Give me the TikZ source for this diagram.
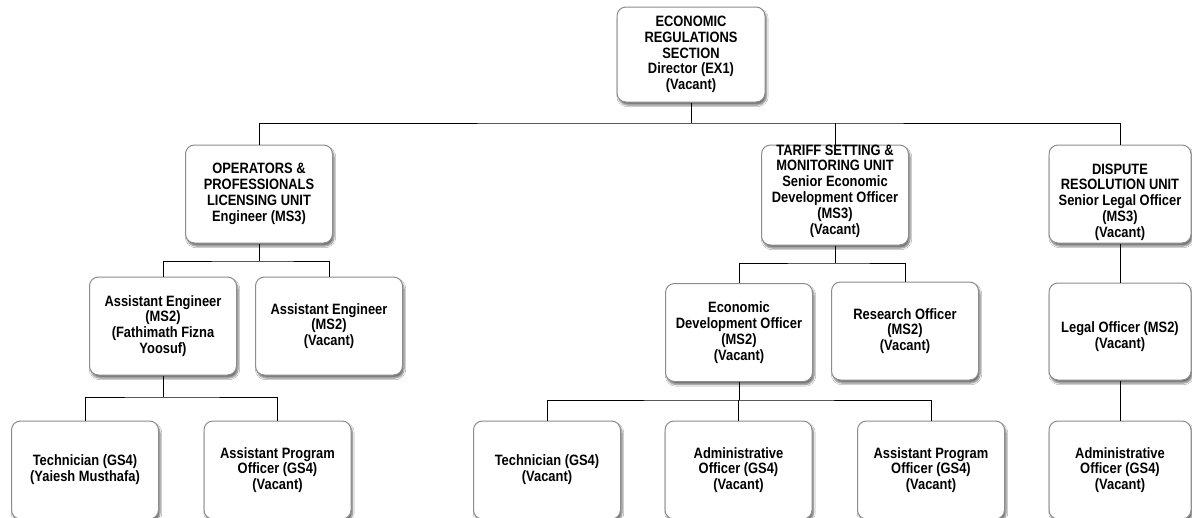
\documentclass[tikz,border=0pt]{standalone}
\usepackage{fontspec}
\newfontfamily\boxfont{Liberation Sans}[FakeStretch=0.86]
\usetikzlibrary{shadows.blur}
\definecolor{boxgray}{RGB}{140,140,140}
\begin{document}
\begin{tikzpicture}[x=1pt,y=-1pt,
  box/.style={draw=boxgray, line width=1pt, rounded corners=9pt, fill=white,
    minimum width=147pt, minimum height=98pt, inner sep=0pt,
    blur shadow={shadow xshift=1.5pt, shadow yshift=-3pt, shadow blur steps=6, shadow opacity=55}},
  txt/.style={align=center, font=\boxfont\bfseries\fontsize{15}{15.8}\selectfont, inner sep=0pt},
  link/.style={draw=black, line width=0.9pt}]
\useasboundingbox (0,0) rectangle (1192,517);
\fill[white] (0,0) rectangle (1192,517);
\clip (0,0) rectangle (1192,517);

% level 1
\node[box, minimum width=148pt, minimum height=95pt] (top) at (691,54.5) {};
% level 2
\node[box] (ops) at (259,194) {};
\node[box, minimum height=100pt] (tar) at (835,195) {};
\node[box, minimum width=142pt] (dis) at (1120,194) {};
% level 3
\node[box] (ae1) at (163,326) {};
\node[box] (ae2) at (329,326) {};
\node[box] (edo) at (739,332.5) {};
\node[box] (ro) at (905,331) {};
\node[box, minimum width=142pt, minimum height=97pt] (lo) at (1120,331.5) {};
% level 4
\node[box] (t1) at (85,470) {};
\node[box] (ap1) at (277.5,470) {};
\node[box] (t2) at (547,470) {};
\node[box] (ad1) at (738.5,470) {};
\node[box] (ap2) at (931,470) {};
\node[box, minimum width=142pt] (ad2) at (1120,470) {};

% texts
\node[txt] (topT) at (top.center) {ECONOMIC\\REGULATIONS\\SECTION\\Director (EX1)\\(Vacant)};
\node[txt] (opsT) at (ops.center) {OPERATORS \&\\PROFESSIONALS\\LICENSING UNIT\\Engineer (MS3)};
\node[txt] (tarT) at ([yshift=4pt]tar.center) {TARIFF SETTING \&\\MONITORING UNIT\\Senior Economic\\Development Officer\\(MS3)\\(Vacant)};
\node[txt] (disT) at ([yshift=-8pt]dis.center) {DISPUTE\\RESOLUTION UNIT\\Senior Legal Officer\\(MS3)\\(Vacant)};
\node[txt] (ae1T) at (ae1.center) {Assistant Engineer\\(MS2)\\(Fathimath Fizna\\Yoosuf)};
\node[txt] (ae2T) at (ae2.center) {Assistant Engineer\\(MS2)\\(Vacant)};
\node[txt] (edoT) at (edo.center) {Economic\\Development Officer\\(MS2)\\(Vacant)};
\node[txt] (roT) at (ro.center) {Research Officer\\(MS2)\\(Vacant)};
\node[txt] (loT) at ([yshift=-5pt]lo.center) {Legal Officer (MS2)\\(Vacant)};
\node[txt] (t1T) at (t1.center) {Technician (GS4)\\(Yaiesh Musthafa)};
\node[txt] (ap1T) at (ap1.center) {Assistant Program\\Officer (GS4)\\(Vacant)};
\node[txt] (t2T) at (t2.center) {Technician (GS4)\\(Vacant)};
\node[txt] (ad1T) at (ad1.center) {Administrative\\Officer (GS4)\\(Vacant)};
\node[txt] (ap2T) at (ap2.center) {Assistant Program\\Officer (GS4)\\(Vacant)};
\node[txt] (ad2T) at (ad2.center) {Administrative\\Officer (GS4)\\(Vacant)};

% junctions
\coordinate (j1) at (691,123);
\coordinate (j2) at (259,261);
\coordinate (j3) at (835,263);
\coordinate (j4) at (163,397);
\coordinate (j5) at (739,400);

% connectors
\draw[link] (top.south) -- (j1);
\draw[link] (ops.north) |- (j1) -| (dis.north);
\draw[link] (tar.north) -- (tar.north |- j1);

\draw[link] (ops.south) -- (j2);
\draw[link] (ae1.north) |- (j2) -| (ae2.north);

\draw[link] (tar.south) -- (j3);
\draw[link] (edo.north) |- (j3) -| (ro.north);

\draw[link] (dis.south) -- (lo.north);

\draw[link] (ae1.south) -- (j4);
\draw[link] (t1.north) |- (j4) -| (ap1.north);

\draw[link] (edo.south) -- (j5);
\draw[link] (t2.north) |- (j5) -| (ap2.north);
\draw[link] (ad1.north) -- (ad1.north |- j5);

\draw[link] (lo.south) -- (ad2.north);
\end{tikzpicture}
\end{document}
